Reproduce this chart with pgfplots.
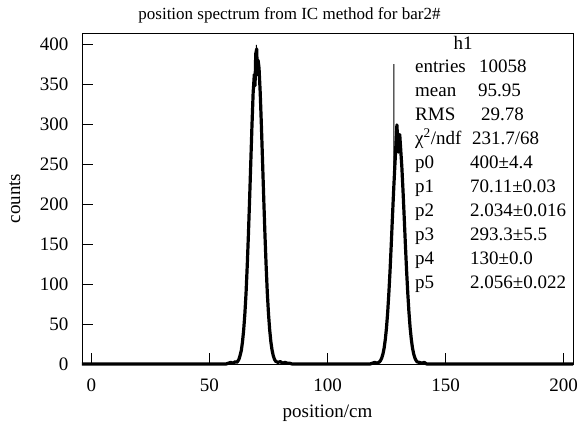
\documentclass[border=0pt]{standalone}
\usepackage{fontspec}
\setmainfont{Liberation Serif}
\usepackage{pgfplots}
\pgfplotsset{compat=1.18}

% histogram h1 (bin contents near the two peaks)
\pgfplotstableread{
x y
-4 0
57 0
58 1
59 2
60 1
61 3
61.5 2
62.0 3.5
62.5 6
63.0 11
63.5 17
64.0 28
64.5 43
65.0 63
65.5 89
66.0 123
66.5 162
67.0 206
67.5 252
68.0 298
68.5 339
69.0 362
69.3 348
69.6 388
70.0 394
70.3 362
70.6 380
71.0 370
71.5 339
72.0 298
72.5 252
73.0 206
73.5 162
74.0 123
74.5 89
75.0 63
75.5 43
76.0 28
76.5 17.6
77.0 10.7
77.5 6.2
78.0 3.5
79 2
80 3
81 1
82 2
83 1
84 1
85 0
118 0
119 1
120 2
121 1
122.0 2.6
122.5 4.5
123.0 7.7
123.5 12.7
124.0 20
124.5 31
125.0 45.5
125.5 65
126.0 89
126.5 117
127.0 149
127.5 183
128.0 216
128.5 246
129.0 275
129.4 299
130.0 265
130.6 287
131.0 269
131.5 246
132.0 216
132.5 183
133.0 149
133.5 117
134.0 89
134.5 65
135.0 45.5
135.5 31
136.0 20
136.5 12.7
137.0 7.7
137.5 4.5
138.0 2.6
139 2
140 1
141 2
142 0
204 0
}\histo

\begin{document}
\begin{tikzpicture}
\path[use as bounding box] (-82bp,-65bp) rectangle (497bp,364bp);
\begin{axis}[
    scale only axis,
    width=491bp, height=331bp,
    xmin=-4, xmax=204,
    ymin=0, ymax=414,
    xtick={0,50,100,150,200},
    ytick={0,50,...,400},
    minor tick num=0,
    tick align=inside,
    xtick pos=bottom, ytick pos=left,
    major tick length=11bp,
    axis line style={line width=0.9bp},
    tick style={line width=0.8bp, black},
    /pgf/number format/assume math mode=true,
    tick label style={font=\fontsize{19bp}{22bp}\selectfont},
    yticklabel style={xshift=-10bp},
    xticklabel style={yshift=-11bp},
    clip=false,
    xlabel={position/cm},
    ylabel={counts},
    label style={font=\fontsize{19bp}{22bp}\selectfont},
    x label style={at={(axis description cs:0.5,-0.148)}, anchor=center},
    y label style={at={(axis description cs:-0.1365,0.5)}, anchor=center},
    title={position spectrum from IC method for bar2\#},
    title style={font=\fontsize{17bp}{20bp}\selectfont, at={(axis description cs:0.4226,1.0242)}, anchor=base},
]
\addplot[black, line width=3.2bp, line join=round] table[x=x, y=y] {\histo};
% thin fit curve tip and the spike near 128
\addplot[black, line width=0.9bp] coordinates {(69.3,360) (69.9,399) (70.5,362)};
\addplot[black, line width=0.9bp] coordinates {(128.05,225) (128.1,375) (128.15,228)};
\end{axis}
\begin{scope}[every node/.style={font=\fontsize{19bp}{22bp}\selectfont, inner sep=0pt}]
\node[anchor=base] at (381bp,314bp) {h1};
\node[anchor=base west] at (333bp,291bp) {entries};
\node[anchor=base west] at (397bp,291bp) {10058};
\node[anchor=base west] at (333bp,267.1bp) {mean};
\node[anchor=base west] at (396bp,267.1bp) {95.95};
\node[anchor=base west] at (333bp,243.2bp) {RMS};
\node[anchor=base west] at (399bp,243.2bp) {29.78};
\node[anchor=base west] at (333bp,219.3bp) {χ\textsuperscript{2}/ndf};
\node[anchor=base west] at (390bp,219.3bp) {231.7/68};
\node[anchor=base west] at (333bp,195.4bp) {p0};
\node[anchor=base west] at (388bp,195.4bp) {400±4.4};
\node[anchor=base west] at (333bp,171.5bp) {p1};
\node[anchor=base west] at (388bp,171.5bp) {70.11±0.03};
\node[anchor=base west] at (333bp,147.6bp) {p2};
\node[anchor=base west] at (388bp,147.6bp) {2.034±0.016};
\node[anchor=base west] at (333bp,123.7bp) {p3};
\node[anchor=base west] at (388bp,123.7bp) {293.3±5.5};
\node[anchor=base west] at (333bp,99.8bp) {p4};
\node[anchor=base west] at (388bp,99.8bp) {130±0.0};
\node[anchor=base west] at (333bp,75.9bp) {p5};
\node[anchor=base west] at (388bp,75.9bp) {2.056±0.022};
\end{scope}
\end{tikzpicture}
\end{document}
